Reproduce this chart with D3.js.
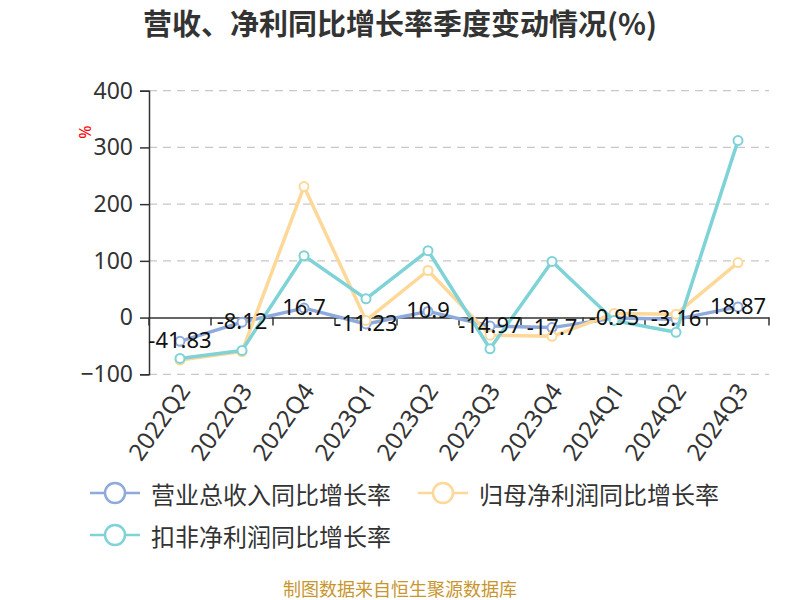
<!DOCTYPE html>
<html><head><meta charset="utf-8">
<script src="https://cdn.jsdelivr.net/npm/d3@7"></script>
<style>
body{margin:0;background:#fff;}
svg{font-family:"Noto Sans","Noto Sans CJK SC",sans-serif;}
</style></head>
<body><svg id="c" width="800" height="600"></svg>
<script>
const categories = ["2022Q2","2022Q3","2022Q4","2023Q1","2023Q2","2023Q3","2023Q4","2024Q1","2024Q2","2024Q3"];
const revenueGrowth = [-41.83, -8.12, 16.7, -11.23, 10.9, -14.97, -17.7, -0.95, -3.16, 18.87];
const netProfitGrowth = [-75, -60, 231, -5, 83, -31, -33, 7, 6, 97];
const deductedProfitGrowth = [-72, -58, 109, 33, 118, -55, 99, -5, -26, 312];
const yTicks = [-100, 0, 100, 200, 300, 400];
const seriesNames = ["营业总收入同比增长率","归母净利润同比增长率","扣非净利润同比增长率"];
const colors = ["#8eaadc","#fdd898","#7fd3d7"];

const svg = d3.select("#c");
const x = d3.scaleBand().domain(categories).range([149, 769]);
const y = d3.scaleLinear().domain([-100, 400]).range([374.3, 90.7]);

// title
svg.append("text").attr("x", 400).attr("y", 35).attr("text-anchor","middle")
  .attr("font-size", 29).attr("font-weight","bold").attr("fill","#333")
  .attr("font-family","'Noto Sans CJK SC',sans-serif")
  .text("营收、净利同比增长率季度变动情况(%)");

// grid
svg.append("g").selectAll("line").data(yTicks.filter(d=>d!==0)).join("line")
  .attr("x1",149).attr("x2",769).attr("y1",d=>y(d)).attr("y2",d=>y(d))
  .attr("stroke","#c8c8c8").attr("stroke-width",1.2).attr("stroke-dasharray","8,6");

// y axis
const yAxis = svg.append("g").attr("transform","translate(149,0)")
  .call(d3.axisLeft(y).tickValues(yTicks).tickSize(9).tickPadding(7));
yAxis.select(".domain").attr("stroke","#333").attr("stroke-width",1.5);
yAxis.selectAll(".tick line").attr("stroke","#333").attr("stroke-width",1.5);
yAxis.selectAll("text").attr("font-size",23).attr("fill","#333")
  .attr("font-family","'Noto Sans',sans-serif");

// unit label
svg.append("text").attr("transform","translate(91,132) rotate(-90)")
  .attr("text-anchor","middle").attr("font-size",16).attr("fill","red").text("%");

// x axis at zero
const xAxis = svg.append("g").attr("transform",`translate(0,${y(0)})`)
  .call(d3.axisBottom(x).tickSize(0).tickFormat(""));
xAxis.select(".domain").attr("stroke","#333").attr("stroke-width",1.5);
xAxis.selectAll(".tick").remove();
const bounds = categories.map(c=>x(c)).concat([x(categories[categories.length-1])+x.bandwidth()]);
xAxis.selectAll("line.tk").data(bounds).join("line").attr("class","tk")
  .attr("x1",d=>d).attr("x2",d=>d).attr("y1",0).attr("y2",8)
  .attr("stroke","#333").attr("stroke-width",1.5);

// x labels at bottom
svg.append("g").selectAll("text").data(categories).join("text")
  .attr("transform",d=>`translate(${x(d)+x.bandwidth()/2+6},${y(-100)+13}) rotate(-55)`)
  .attr("text-anchor","end").attr("dominant-baseline","middle")
  .attr("font-size",24).attr("fill","#333").attr("font-family","'Noto Sans',sans-serif")
  .text(d=>d);

const cx = d=>x(d)+x.bandwidth()/2;
const allSeries = [revenueGrowth, netProfitGrowth, deductedProfitGrowth];
const line = d3.line().x((d,i)=>cx(categories[i])).y(d=>y(d));
allSeries.forEach((vals,k)=>{
  const g = svg.append("g");
  g.append("path").datum(vals).attr("d",line).attr("fill","none")
    .attr("stroke",colors[k]).attr("stroke-width",3.5).attr("stroke-linejoin","round");
  g.selectAll("circle").data(vals).join("circle")
    .attr("cx",(d,i)=>cx(categories[i])).attr("cy",d=>y(d)).attr("r",4.5)
    .attr("fill","#fff").attr("stroke",colors[k]).attr("stroke-width",2);
});

// data labels for revenue
svg.append("g").selectAll("text").data(revenueGrowth).join("text")
  .attr("x",(d,i)=>cx(categories[i])).attr("y",d=>y(d)+7)
  .attr("text-anchor","middle").attr("font-size",22).attr("fill","#111")
  .attr("font-family","'Noto Sans',sans-serif")
  .text(d=>d);

// legend
const legendItems = [
  {name:seriesNames[0], color:colors[0], x:90, y:493},
  {name:seriesNames[1], color:colors[1], x:418, y:493},
  {name:seriesNames[2], color:colors[2], x:90, y:535}
];
const lg = svg.append("g").selectAll("g").data(legendItems).join("g")
  .attr("transform",d=>`translate(${d.x},${d.y})`);
lg.append("line").attr("x1",0).attr("x2",50).attr("y1",0).attr("y2",0)
  .attr("stroke",d=>d.color).attr("stroke-width",2.5);
lg.append("circle").attr("cx",25).attr("cy",0).attr("r",10)
  .attr("fill","#fff").attr("stroke",d=>d.color).attr("stroke-width",2.5);
lg.append("text").attr("x",61).attr("y",0).attr("dominant-baseline","central")
  .attr("font-size",24).attr("fill","#333")
  .attr("font-family","'Noto Sans CJK SC',sans-serif").text(d=>d.name);

// footer
svg.append("text").attr("x",400).attr("y",596).attr("text-anchor","middle")
  .attr("font-size",18).attr("fill","#c8962e")
  .attr("font-family","'Noto Sans CJK SC',sans-serif")
  .text("制图数据来自恒生聚源数据库");
</script></body></html>
